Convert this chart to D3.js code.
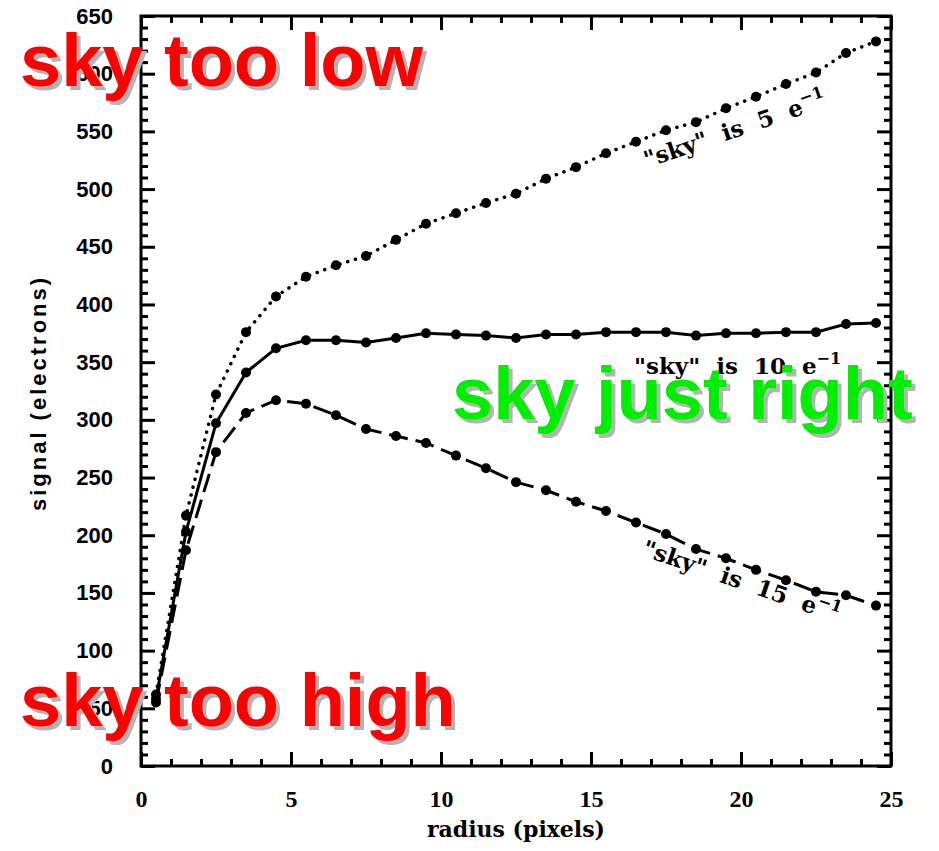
<!DOCTYPE html>
<html>
<head>
<meta charset="utf-8">
<script src="https://cdn.jsdelivr.net/npm/d3@7"></script>
<style>
  body { margin: 0; background: #fff; }
  svg { display: block; }
</style>
</head>
<body>
<script>
// radius bins (pixels)
const radius = [0.5, 1.5, 2.5, 3.5, 4.5, 5.5, 6.5, 7.5, 8.5, 9.5, 10.5, 11.5, 12.5,
  13.5, 14.5, 15.5, 16.5, 17.5, 18.5, 19.5, 20.5, 21.5, 22.5, 23.5, 24.5]

// sky = 5 e- (dotted)
const sky5 = [62, 217, 322, 376, 407, 424, 434, 442, 456, 470, 479, 488, 496,
  509, 519, 531, 541, 551, 558, 570, 580, 591, 601, 618, 628]
// sky = 10 e- (solid)
const sky10 = [58, 203, 297, 341, 362, 369, 369, 367, 371, 375, 374, 373, 371,
  374, 374, 376, 376, 376, 373, 375, 375, 376, 376, 383, 384]
// sky = 15 e- (dashed)
const sky15 = [55, 187, 272, 306, 317, 314, 304, 292, 286, 280, 269, 258, 246,
  239, 229, 221, 211, 201, 188, 180, 170, 161, 151, 148, 139]

const xTicks = [0, 5, 10, 15, 20, 25]
const yTicks = [0, 50, 100, 150, 200, 250, 300, 350, 400, 450, 500, 550, 600, 650]

const W = 939, H = 851
const margin = {t: 16, r: 48, b: 85, l: 141}
const width = W - margin.l - margin.r
const height = H - margin.t - margin.b

const svg = d3.select('body').append('svg')
  .attr('width', W)
  .attr('height', H)

const g = svg.append('g')
  .attr('transform', `translate(${margin.l},${margin.t})`)

const x = d3.scaleLinear().domain([0, 25]).range([0, width])
const y = d3.scaleLinear().domain([0, 650]).range([height, 0])

const xMinor = d3.range(0, 26, 1).filter(d => d % 5 !== 0)
const yMinor = d3.range(0, 651, 10).filter(d => d % 50 !== 0)

// ticks pointing inwards on all four sides
function tickStyle(sel) {
  sel.select('.domain').remove()
  sel.selectAll('line').attr('stroke', '#000').attr('stroke-width', 3)
}

g.append('g').attr('transform', `translate(0,${height})`)
  .call(d3.axisBottom(x).tickValues(xTicks).tickSize(-14).tickPadding(24)
    .tickFormat(d3.format('d')))
  .call(tickStyle)
  .selectAll('text')
    .attr('font-family', '"Liberation Serif", serif')
    .attr('font-weight', 'bold')
    .attr('font-size', 24)
    .attr('fill', '#000')

g.append('g').attr('transform', `translate(0,${height})`)
  .call(d3.axisBottom(x).tickValues(xMinor).tickSize(-7).tickFormat(''))
  .call(tickStyle)

g.append('g')
  .call(d3.axisTop(x).tickValues(xTicks).tickSize(-14).tickFormat(''))
  .call(tickStyle)
g.append('g')
  .call(d3.axisTop(x).tickValues(xMinor).tickSize(-7).tickFormat(''))
  .call(tickStyle)

g.append('g')
  .call(d3.axisLeft(y).tickValues(yTicks).tickSize(-14).tickPadding(28)
    .tickFormat(d3.format('d')))
  .call(tickStyle)
  .selectAll('text')
    .attr('font-family', '"Liberation Sans", Arial, sans-serif')
    .attr('font-weight', 'bold')
    .attr('font-size', 22)
    .attr('fill', '#000')

g.append('g')
  .call(d3.axisLeft(y).tickValues(yMinor).tickSize(-7).tickFormat(''))
  .call(tickStyle)

g.append('g').attr('transform', `translate(${width},0)`)
  .call(d3.axisRight(y).tickValues(yTicks).tickSize(-14).tickFormat(''))
  .call(tickStyle)
g.append('g').attr('transform', `translate(${width},0)`)
  .call(d3.axisRight(y).tickValues(yMinor).tickSize(-7).tickFormat(''))
  .call(tickStyle)

// frame
g.append('rect')
  .attr('width', width).attr('height', height)
  .attr('fill', 'none').attr('stroke', '#000').attr('stroke-width', 3)

// axis titles
svg.append('text')
  .attr('x', margin.l + width / 2).attr('y', 837)
  .attr('text-anchor', 'middle')
  .attr('font-family', '"DejaVu Serif", serif')
  .attr('font-weight', 'bold').attr('font-size', 22)
  .text('radius (pixels)')

svg.append('text')
  .attr('transform', `translate(46,${margin.t + height / 2 + 2}) rotate(-90)`)
  .attr('text-anchor', 'middle')
  .attr('font-family', '"Liberation Sans", Arial, sans-serif')
  .attr('font-weight', 'bold').attr('font-size', 22)
  .attr('letter-spacing', 3)
  .text('signal (electrons)')

// curves
const series = [
  {vals: sky5, dash: '0.1,8', cap: 'round', w: 3.5},
  {vals: sky10, dash: null, cap: 'butt', w: 3},
  {vals: sky15, dash: '19,8', cap: 'butt', w: 3}
]

const line = d3.line()
  .x((d, i) => x(radius[i]))
  .y(d => y(d))

series.forEach(s => {
  g.append('path')
    .datum(s.vals)
    .attr('d', line)
    .attr('fill', 'none')
    .attr('stroke', '#000')
    .attr('stroke-width', s.w)
    .attr('stroke-linecap', s.cap)
    .attr('stroke-dasharray', s.dash)

  g.selectAll(null)
    .data(s.vals)
    .join('circle')
      .attr('cx', (d, i) => x(radius[i]))
      .attr('cy', d => y(d))
      .attr('r', 5)
      .attr('fill', '#000')
})

// curve annotations
function annotate(label, tx, ty, angle) {
  const t = svg.append('text')
    .attr('transform', `translate(${tx},${ty}) rotate(${angle})`)
    .attr('font-family', '"DejaVu Serif", serif')
    .attr('font-weight', 'bold').attr('font-size', 23)
    .attr('word-spacing', 8)
  t.append('tspan').text(label)
  t.append('tspan').attr('dy', -10).attr('font-size', 16).text('\u22121')
}
annotate('"sky" is 5 e', 647, 168, -19)
annotate('"sky" is 10 e', 634, 374, 0)
annotate('"sky" is 15 e', 641, 555, 19)

// big overlay labels with drop shadow
function bigLabel(txt, tx, ty, color) {
  const grp = svg.append('g')
    .attr('font-family', '"Liberation Sans", Arial, sans-serif')
    .attr('font-weight', 'bold').attr('font-size', 74)
  grp.append('text').attr('x', tx + 4).attr('y', ty + 4)
    .attr('fill', '#b4b4b4').text(txt)
  grp.append('text').attr('x', tx).attr('y', ty)
    .attr('fill', color).text(txt)
}
bigLabel('sky too low', 20, 86, '#ff0000')
bigLabel('sky just right', 452, 419, '#00ee00')
bigLabel('sky too high', 20, 726, '#ff0000')
</script>
</body>
</html>
